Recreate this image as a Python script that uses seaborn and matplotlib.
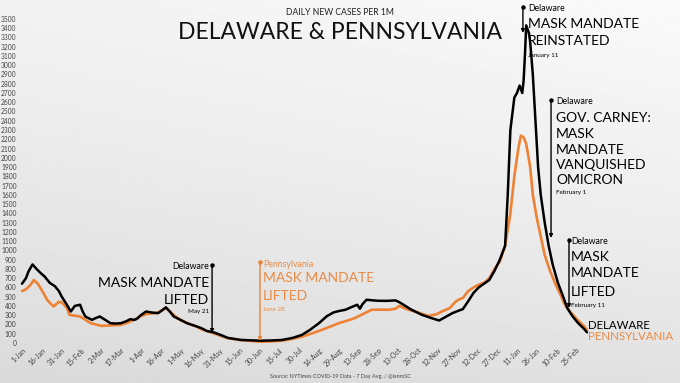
import numpy as np
import pandas as pd
import matplotlib.pyplot as plt
import seaborn as sns

BLACK = "#000000"
ORANGE = "#EE8234"
ORANGE_TXT = "#E98B45"
GRIS = "#444444"

sns.set_theme(style="white")
plt.rcParams["font.family"] = ["Lato", "DejaVu Sans"]

START = pd.Timestamp("2021-01-01")

# Delaware, 7-day avg daily new cases per 1M (day offset from 1-Jan-2021)
de_day = [0, 3, 5, 8, 11, 14, 17, 21, 25, 28, 30, 34, 37, 40, 44, 46, 48, 53, 56, 59,
          63, 67, 71, 75, 79, 82, 85, 87, 90, 94, 98, 103, 106, 109, 112, 115, 120, 125,
          130, 136, 140, 145, 150, 156, 166, 175, 181, 190, 197, 205, 212, 218, 225, 231,
          236, 240, 245, 250, 254, 256, 258, 261, 266, 270, 276, 283, 286, 289, 295, 303,
          310, 316, 322, 326, 330, 334, 338, 342, 346, 350, 354, 358, 362, 366, 368, 370,
          373, 375, 377, 379, 380, 381, 382, 384, 385, 387, 389, 391, 393, 396, 399, 402,
          406, 410, 413, 417, 421, 426, 428]
de_val = [640, 700, 775, 848, 800, 757, 720, 650, 612, 560, 503, 413, 340, 400, 413, 340,
          286, 250, 270, 286, 250, 214, 210, 214, 235, 257, 250, 260, 300, 340, 330, 322,
          350, 385, 340, 286, 250, 214, 190, 160, 130, 116, 90, 55, 33, 28, 25, 28, 33, 55,
          87, 140, 214, 290, 330, 345, 359, 390, 413, 370, 420, 467, 460, 456, 455, 460,
          440, 413, 360, 304, 270, 243, 290, 322, 345, 366, 450, 540, 600, 640, 680, 780,
          900, 1050, 1600, 2300, 2650, 2700, 2780, 2700, 2830, 3100, 3430, 3350, 3250,
          2900, 2400, 1900, 1600, 1300, 1050, 850, 650, 500, 380, 290, 220, 150, 115]

# Pennsylvania
pa_day = [0, 3, 6, 9, 12, 14, 17, 19, 22, 24, 26, 28, 30, 32, 34, 36, 40, 44, 48, 52, 56,
          60, 67, 75, 80, 85, 90, 95, 100, 103, 106, 109, 112, 116, 120, 126, 132, 136,
          142, 150, 156, 166, 181, 190, 197, 205, 212, 220, 227, 234, 240, 246, 252, 258,
          265, 272, 278, 283, 286, 289, 293, 300, 308, 314, 318, 324, 328, 331, 334, 338,
          342, 346, 350, 354, 358, 362, 366, 370, 373, 376, 378, 380, 382, 385, 387, 390,
          393, 396, 400, 404, 408, 411, 415, 419, 423, 426, 428]
pa_val = [560, 580, 620, 680, 640, 594, 520, 467, 420, 395, 420, 445, 440, 410, 377, 304,
          295, 286, 250, 214, 200, 185, 190, 196, 220, 250, 290, 315, 320, 330, 355, 380,
          340, 290, 250, 210, 180, 149, 120, 80, 51, 30, 14, 18, 25, 45, 68, 105, 141, 180,
          214, 240, 268, 310, 359, 360, 359, 370, 402, 380, 359, 330, 293, 310, 340, 377,
          440, 470, 486, 560, 600, 630, 650, 700, 800, 880, 1050, 1400, 1800, 2100, 2240,
          2220, 2150, 1900, 1600, 1350, 1150, 950, 780, 640, 520, 420, 340, 280, 220, 180, 140]

tick_days = list(range(0, 421, 15))
tick_labels = [(START + pd.Timedelta(days=d)).strftime("%-d-%b") for d in tick_days]
y_ticks = list(range(0, 3501, 100))

de = pd.DataFrame({"day": de_day, "cases": de_val})
pa = pd.DataFrame({"day": pa_day, "cases": pa_val})

fig = plt.figure(figsize=(6.8, 3.83), dpi=100)

# fondo degradado gris
bg = fig.add_axes([0, 0, 1, 1], zorder=-10)
yy, xx = np.mgrid[0:1:200j, 0:1:200j]
grad = 0.85 + 0.10 * (1 - yy) ** 0.8 + 0.03 * xx
bg.imshow(np.clip(grad, 0, 1), cmap="gray", vmin=0, vmax=1, aspect="auto",
          extent=[0, 1, 0, 1], origin="upper")
bg.axis("off")

ax = fig.add_axes([20 / 680, 40 / 383, 660 / 680, 343 / 383])
ax.set_facecolor("none")
sns.lineplot(data=pa, x="day", y="cases", color=ORANGE, lw=1.9, ax=ax)
sns.lineplot(data=de, x="day", y="cases", color=BLACK, lw=1.8, ax=ax)

ax.set_xlim(-1.5, 498.5)
ax.set_ylim(0, 3704)
ax.set_xticks(tick_days)
ax.set_xticklabels(tick_labels, rotation=45, ha="right", va="top",
                   rotation_mode="anchor", fontsize=5, color=GRIS)
ax.set_yticks(y_ticks)
ax.set_yticklabels([str(v) for v in y_ticks], fontsize=4.8, color=GRIS)
ax.tick_params(length=0, pad=2.5)
ax.set_xlabel(""); ax.set_ylabel("")
for s in ax.spines.values():
    s.set_visible(False)

fig.text(0.5, 0.968, "DAILY NEW CASES PER 1M", ha="center", va="center",
         fontsize=6.2, color="#222222")
fig.text(0.5, 0.915, "DELAWARE & PENNSYLVANIA", ha="center", va="center",
         fontsize=16.5, color="#111111")
fig.text(0.5, 0.016, "Source: NYTimes COVID-19 Data - 7 Day Avg. / @ianmSC",
         ha="center", va="center", fontsize=4, color=GRIS)


def marker_line(x, top, bottom, color):
    ax.annotate("", xy=(x, bottom), xytext=(x, top),
                arrowprops=dict(arrowstyle="-|>", lw=1, color=color,
                                mutation_scale=5, shrinkA=0, shrinkB=0))
    ax.plot([x], [top], "o", color=color, ms=2.2)


def note(x, lines, color, ha="left"):
    # lines: (y, texto, tamano)
    for y, txt, size in lines:
        ax.text(x, y, txt, ha=ha, va="center", fontsize=size, color=color)


BIG = 10
SMALL = 6.3
TINY = 4.5

# Delaware - May 21
marker_line(144, 842, 108, BLACK)
note(141.5, [(830, "Delaware", SMALL), (648, "MASK MANDATE", BIG),
             (464, "LIFTED", BIG), (345, "May 21", TINY)], BLACK, ha="right")

# Pennsylvania - June 28
marker_line(180.3, 875, 22, ORANGE)
note(182.6, [(853, "Pennsylvania", SMALL), (702, "MASK MANDATE", BIG),
             (508, "LIFTED", BIG), (367, "June 28", TINY)], ORANGE_TXT)

# Delaware - January 11
marker_line(379.5, 3629, 3348, BLACK)
note(383.3, [(3607, "Delaware", SMALL), (3445, "MASK MANDATE", BIG),
             (3262, "REINSTATED", BIG), (3110, "January 11", TINY)], BLACK)

# Delaware - February 1
marker_line(400.8, 2624, 1134, BLACK)
note(404.5, [(2603, "Delaware", SMALL), (2430, "GOV. CARNEY:", BIG),
             (2257, "MASK", BIG), (2084, "MANDATE", BIG), (1922, "VANQUISHED", BIG),
             (1760, "OMICRON", BIG), (1620, "February 1", TINY)], BLACK)

# Delaware - February 11
marker_line(414.4, 1112, 378, BLACK)
note(416, [(1091, "Delaware", SMALL), (929, "MASK", BIG), (756, "MANDATE", BIG),
           (551, "LIFTED", BIG), (410, "February 11", TINY)], BLACK)

# etiquetas finales
ax.text(428.8, 184, "DELAWARE", ha="left", va="center", fontsize=8.3, color=BLACK)
ax.text(428.8, 65, "PENNSYLVANIA", ha="left", va="center", fontsize=8.3, color=ORANGE_TXT)

fig.savefig("out.png", dpi=100)
